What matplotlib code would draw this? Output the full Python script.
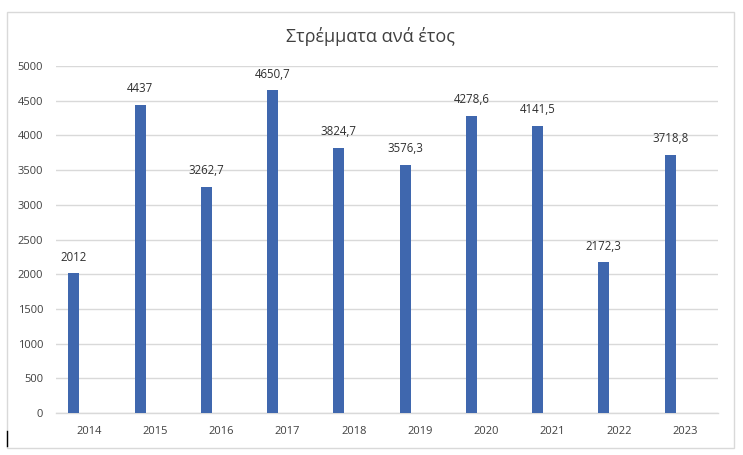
import matplotlib
matplotlib.use("Agg")
import matplotlib.pyplot as plt
from matplotlib.lines import Line2D
from matplotlib.patches import Rectangle

years = ["2014", "2015", "2016", "2017", "2018", "2019", "2020", "2021", "2022", "2023"]
values = [2012, 4437, 3262.7, 4650.7, 3824.7, 3576.3, 4278.6, 4141.5, 2172.3, 3718.8]
value_labels = ["2012", "4437", "3262,7", "4650,7", "3824,7", "3576,3", "4278,6", "4141,5", "2172,3", "3718,8"]
yticks = [0, 500, 1000, 1500, 2000, 2500, 3000, 3500, 4000, 4500, 5000]
title = "Στρέμματα ανά έτος"

W, H = 743, 455
fig = plt.figure(figsize=(W / 100, H / 100), dpi=100)
fig.patch.set_facecolor("white")

# chart border
fig.add_artist(Rectangle((7 / W, 1 - 447.5 / H), (734 - 7) / W, (447.5 - 12) / H,
                         transform=fig.transFigure, fill=False, edgecolor="#d9d9d9", linewidth=1))
# cursor mark
fig.add_artist(Line2D([7.5 / W, 7.5 / W], [1 - 446 / H, 1 - 431 / H], transform=fig.transFigure,
                      color="black", linewidth=1))

left, right = 55.7 / W, 718.3 / W
bottom, top = 1 - 413 / H, 1 - 66 / H
ax = fig.add_axes([left, bottom, right - left, top - bottom])

x = list(range(len(years)))
offset = -0.227
width = 0.167
bars = ax.bar([i + offset for i in x], values, width=width, color="#3F67AE", zorder=3)

for b, lab in zip(bars, value_labels):
    ax.annotate(lab, (b.get_x() + b.get_width() / 2, b.get_height()), xytext=(0, 7),
                textcoords="offset points", ha="center", va="bottom",
                fontsize=8.3, color="#303030", family="Open Sans")

ax.set_xlim(-0.5, len(years) - 0.5)
ax.set_ylim(0, 5000)
ax.set_yticks(yticks)
ax.set_yticklabels([str(v) for v in yticks], fontsize=8, color="#404040", family="Open Sans")
ax.set_xticks(x)
ax.set_xticklabels(years, fontsize=8, color="#404040", family="Open Sans")
ax.tick_params(axis="both", length=0)
ax.tick_params(axis="y", pad=9)
ax.tick_params(axis="x", pad=9)
ax.grid(axis="y", color="#d9d9d9", linewidth=1, zorder=0)
for s in ["top", "right", "left"]:
    ax.spines[s].set_visible(False)
ax.spines["bottom"].set_color("#d9d9d9")
ax.spines["bottom"].set_linewidth(1)

fig.text(370 / W, 1 - 37 / H, title, ha="center", va="center", fontsize=13,
         color="#404040", family="Open Sans")

fig.savefig("out.png", dpi=100)
